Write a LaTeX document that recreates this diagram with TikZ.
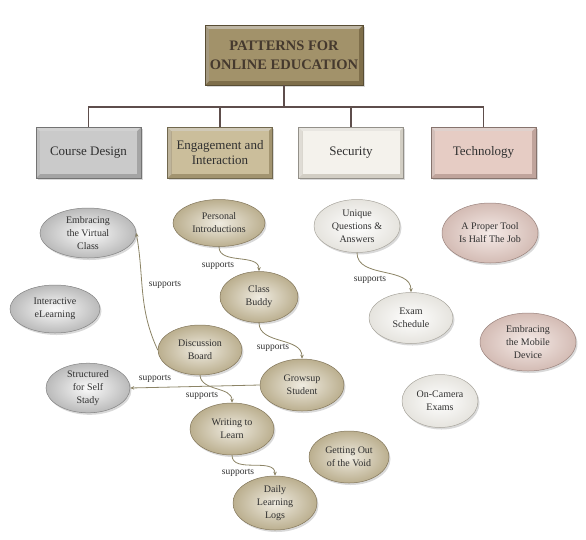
\documentclass[tikz,border=0pt]{standalone}
\usepackage{fontspec}
\setmainfont{Liberation Serif}
\usetikzlibrary{shapes.geometric,shadows,arrows.meta}
\definecolor{txt}{HTML}{303030}
\definecolor{titletxt}{HTML}{45392E}
\definecolor{treeline}{HTML}{5E4E4C}
\definecolor{supline}{HTML}{8C8466}
\definecolor{gface}{HTML}{CACACA}\definecolor{gedge}{HTML}{A4A4A4}
\definecolor{kface}{HTML}{CBBE9B}\definecolor{kedge}{HTML}{A29470}
\definecolor{wface}{HTML}{F4F2EC}\definecolor{wedge}{HTML}{D2CEC4}
\definecolor{pface}{HTML}{E6CCC4}\definecolor{pedge}{HTML}{C0A49C}
\definecolor{tface}{HTML}{A2926A}\definecolor{tedge}{HTML}{7E6E4A}
\begin{document}
\begin{tikzpicture}[x=1pt,y=1pt,
  bevbox/.style n args={2}{rectangle, inner sep=0pt, fill=#2, draw=#2!70!black, line width=0.4pt,
    drop shadow={shadow xshift=1.5pt,shadow yshift=-1.5pt,opacity=0.3},
    path picture={
      \fill[white,opacity=0.5] (path picture bounding box.north west) -- (path picture bounding box.north east)
        -- ([shift={(-4pt,-4pt)}]path picture bounding box.north east) -- ([shift={(4pt,-4pt)}]path picture bounding box.north west) -- cycle;
      \fill[white,opacity=0.3] (path picture bounding box.north west) -- (path picture bounding box.south west)
        -- ([shift={(4pt,4pt)}]path picture bounding box.south west) -- ([shift={(4pt,-4pt)}]path picture bounding box.north west) -- cycle;
      \fill[#1] ([shift={(4pt,-4pt)}]path picture bounding box.north west) rectangle ([shift={(-4pt,4pt)}]path picture bounding box.south east);
    }, align=center},
  catbox/.style n args={2}{bevbox={#1}{#2}, minimum width=105pt, minimum height=51pt,
    text=txt, font=\fontsize{13}{15}\selectfont},
  ell/.style n args={3}{ellipse, inner sep=0pt, shade, inner color=#1, outer color=#2, draw=#3, line width=0.5pt,
    drop shadow={shadow xshift=1.5pt,shadow yshift=-2pt,opacity=0.3},
    align=center, text=txt, font=\fontsize{10}{13}\selectfont},
  gell/.style={ell={white!92!gface}{gface!92!black}{gedge!80!black}},
  kell/.style={ell={white!70!kface}{kface!92!black}{kedge!80!black}},
  well/.style={ell={white}{wface!94!black}{wedge!80!black}},
  pell/.style={ell={white!60!pface}{pface!92!black}{pedge!80!black}},
  tree/.style={draw=treeline, line width=1.3pt},
  sup/.style={draw=supline, line width=0.8pt, -{Stealth[length=4pt,width=3.5pt]}},
  suplab/.style={font=\fontsize{9.5}{10}\selectfont, text=txt, inner sep=1pt}
]
\useasboundingbox (0,0) rectangle (586,-539);
% title
\node[bevbox={tface}{tedge}, minimum width=158pt, minimum height=60pt, text=titletxt,
  font=\bfseries\fontsize{14.5}{19}\selectfont] (title) at (284,-55) {PATTERNS FOR\\ONLINE EDUCATION};
% categories
\node[catbox={gface}{gedge}] (cd) at (88.5,-152.5) {Course Design};
\node[catbox={kface}{kedge}] (ei) at (220,-152.5) {Engagement and\\Interaction};
\node[catbox={wface}{wedge}] (se) at (351,-152.5) {Security};
\node[catbox={pface}{pedge}] (te) at (483.5,-152.5) {Technology};
\coordinate (hub) at (284,-107);
\draw[tree] (title.south) -- (hub);
\draw[tree] (cd.north) |- (hub) -| (te.north);
\draw[tree] (ei.north) -- (ei.north |- hub);
\draw[tree] (se.north) -- (se.north |- hub);
% course design
\node[gell, minimum width=96pt, minimum height=50pt] (evc) at (88,-233) {Embracing\\the Virtual\\Class};
\node[gell, minimum width=90pt, minimum height=48pt] (iel) at (55,-309) {Interactive\\eLearning};
\node[gell, minimum width=84pt, minimum height=48pt] (sss) at (88,-388) {Structured\\for Self\\Stady};
% engagement
\node[kell, minimum width=92pt, minimum height=47pt] (pi) at (219,-223) {Personal\\Introductions};
\node[kell, minimum width=78pt, minimum height=51pt] (cb) at (259,-297) {Class\\Buddy};
\node[kell, minimum width=84pt, minimum height=50pt] (db) at (200,-350) {Discussion\\Board};
\node[kell, minimum width=84pt, minimum height=52pt] (gs) at (302,-385) {Growsup\\Student};
\node[kell, minimum width=84pt, minimum height=52pt] (wl) at (232,-429) {Writing to\\Learn};
\node[kell, minimum width=80pt, minimum height=52pt] (gv) at (349,-457) {Getting Out\\of the Void};
\node[kell, minimum width=84pt, minimum height=54pt] (dl) at (275,-503) {Daily\\Learning\\Logs};
% security
\node[well, minimum width=86pt, minimum height=53pt] (uq) at (357,-226) {Unique\\Questions \&\\Answers};
\node[well, minimum width=84pt, minimum height=51pt] (es) at (411,-318) {Exam\\Schedule};
\node[well, minimum width=76pt, minimum height=53pt] (oc) at (440,-401) {On-Camera\\Exams};
% technology
\node[pell, minimum width=96pt, minimum height=60pt] (pt) at (490,-233) {A Proper Tool\\Is Half The Job};
\node[pell, minimum width=96pt, minimum height=58pt] (md) at (528,-342) {Embracing\\the Mobile\\Device};
% supports connectors
\draw[sup] (pi.south) to[out=-90,in=90] (cb.north);
\node[suplab] (l1) at (218,-266) {supports};
\draw[sup] (db.west) to[out=115,in=-80] (evc.east);
\node[suplab] (l2) at (165,-285) {supports};
\draw[sup] (cb.south) to[out=-90,in=90] (gs.north);
\node[suplab] (l3) at (273,-348) {supports};
\draw[sup] (gs.west) -- (sss.east);
\node[suplab] (l4) at (155,-379) {supports};
\draw[sup] (db.south) to[out=-85,in=90] (wl.north);
\node[suplab] (l5) at (202,-396) {supports};
\draw[sup] (uq.south) to[out=-90,in=90] (es.north);
\node[suplab] (l6) at (370,-280) {supports};
\draw[sup] (wl.south) to[out=-90,in=90] (dl.north);
\node[suplab] (l7) at (238,-473) {supports};
\end{tikzpicture}
\end{document}
